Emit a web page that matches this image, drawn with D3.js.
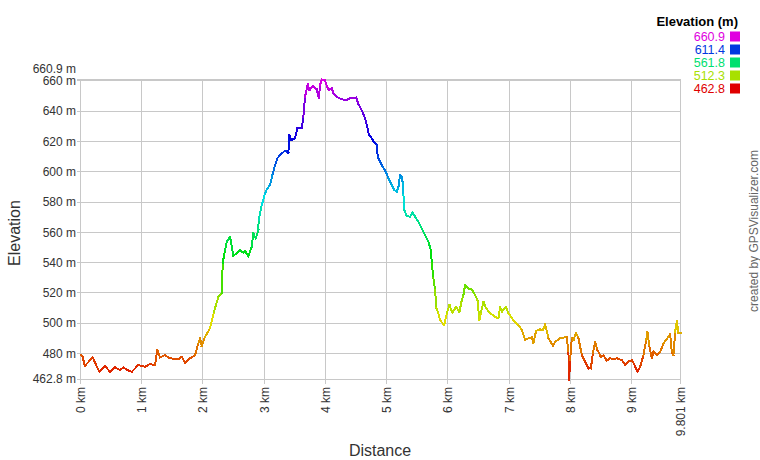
<!DOCTYPE html>
<html>
<head>
<meta charset="utf-8">
<script src="https://cdn.jsdelivr.net/npm/d3@7"></script>
<style>
  html, body { margin: 0; padding: 0; background: #fff; }
  svg { display: block; font-family: "Liberation Sans", Arial, sans-serif; }
</style>
</head>
<body>
<svg id="chart" width="760" height="460"></svg>
<script>
// ---- data ----
const distanceKm = [
  0.003, 0.036, 0.069, 0.199, 0.307, 0.400, 0.482, 0.564, 0.645, 0.699, 0.765, 0.837, 0.944,
  1.054, 1.136, 1.217, 1.255, 1.299, 1.381, 1.462, 1.598, 1.654, 1.708, 1.789, 1.871, 1.925,
  1.953, 1.980, 2.034, 2.116, 2.181, 2.252, 2.307, 2.324, 2.361, 2.389, 2.443, 2.497, 2.606,
  2.660, 2.688, 2.742, 2.797, 2.824, 2.863, 2.905, 2.910, 2.961, 3.015, 3.052, 3.096, 3.141,
  3.178, 3.216, 3.271, 3.342, 3.395, 3.412, 3.440, 3.505, 3.542, 3.614, 3.641, 3.668, 3.712,
  3.739, 3.766, 3.804, 3.859, 3.892, 3.913, 3.941, 3.995, 4.049, 4.105, 4.131, 4.186, 4.268,
  4.350, 4.404, 4.458, 4.502, 4.539, 4.595, 4.649, 4.676, 4.714, 4.752, 4.801, 4.840, 4.856,
  4.894, 4.938, 4.987, 5.029, 5.085, 5.127, 5.167, 5.193, 5.221, 5.248, 5.265, 5.275, 5.291,
  5.330, 5.384, 5.428, 5.466, 5.520, 5.575, 5.629, 5.683, 5.722, 5.739, 5.765, 5.792, 5.814,
  5.846, 5.874, 5.940, 5.984, 6.026, 6.075, 6.136, 6.190, 6.229, 6.255, 6.283, 6.337, 6.392,
  6.446, 6.484, 6.516, 6.544, 6.582, 6.626, 6.691, 6.773, 6.827, 6.855, 6.882, 6.908, 6.953,
  6.990, 7.072, 7.154, 7.209, 7.263, 7.317, 7.373, 7.399, 7.443, 7.508, 7.552, 7.590, 7.644,
  7.721, 7.753, 7.835, 7.944, 7.971, 7.982, 7.998, 8.026, 8.052, 8.092, 8.134, 8.190, 8.243,
  8.297, 8.337, 8.369, 8.407, 8.444, 8.500, 8.542, 8.598, 8.652, 8.706, 8.761, 8.843, 8.897,
  8.951, 9.007, 9.049, 9.098, 9.142, 9.196, 9.240, 9.261, 9.294, 9.333, 9.359, 9.415, 9.469,
  9.523, 9.605, 9.632, 9.660, 9.686, 9.714, 9.742, 9.768, 9.801
];
const elevationM = [
  478.9, 477.8, 471.7, 477.4, 467.9, 471.7, 467.9, 470.8, 469.0, 470.8, 469.0, 467.9, 472.3,
  471.2, 473.0, 472.3, 482.2, 477.4, 478.9, 476.8, 476.1, 477.8, 473.8, 476.8, 478.9, 486.7,
  490.0, 484.9, 491.0, 496.6, 507.5, 517.4, 519.7, 539.9, 548.3, 553.8, 557.1, 544.3, 548.3,
  546.5, 547.8, 543.9, 550.5, 559.3, 556.0, 561.5, 568.1, 578.0, 585.7, 589.0, 591.2, 598.9,
  604.4, 608.9, 611.5, 613.9, 612.6, 624.2, 620.9, 622.1, 628.7, 628.7, 636.3, 649.5, 657.9,
  654.0, 655.1, 656.6, 654.4, 648.5, 657.3, 660.9, 660.1, 654.0, 655.1, 651.8, 649.5, 647.8,
  647.4, 648.5, 648.5, 649.1, 644.7, 640.4, 635.3, 630.8, 624.2, 622.3, 619.2, 617.6, 609.9,
  606.6, 603.3, 600.0, 595.6, 591.2, 587.9, 586.8, 590.1, 597.8, 596.7, 592.3, 584.6, 574.7,
  570.7, 570.3, 572.9, 570.3, 567.0, 562.6, 558.2, 553.8, 548.3, 539.5, 529.8, 521.9, 510.0,
  506.5, 502.0, 498.7, 506.5, 512.0, 506.9, 510.8, 507.5, 515.3, 518.6, 525.2, 523.0, 522.3,
  518.6, 515.3, 502.0, 507.5, 514.1, 509.8, 506.5, 504.2, 503.2, 510.8, 507.5, 508.7, 510.8,
  506.5, 502.0, 498.7, 495.4, 488.8, 490.0, 490.6, 487.1, 495.0, 495.9, 495.4, 499.2, 490.0,
  484.9, 487.7, 490.0, 491.0, 480.1, 462.8, 475.6, 490.0, 488.8, 493.7, 490.0, 478.9, 474.5,
  470.1, 470.1, 480.1, 487.7, 482.2, 477.8, 478.9, 475.2, 476.8, 476.1, 476.8, 475.6, 472.3,
  474.5, 475.6, 472.3, 467.9, 471.2, 478.9, 488.8, 494.3, 484.4, 476.8, 481.1, 478.9, 481.1,
  486.7, 491.0, 492.8, 480.1, 478.9, 494.3, 501.6, 493.3, 493.3
];
const yTickValues = [480, 500, 520, 540, 560, 580, 600, 620, 640, 660];
const yExtremes = [462.8, 660.9];
const xTickValues = [0, 1, 2, 3, 4, 5, 6, 7, 8, 9, 9.801];
const legendValues = [660.9, 611.4, 561.8, 512.3, 462.8];
const legendTitle = "Elevation (m)";
const xTitle = "Distance";
const yTitle = "Elevation";
const creditText = "created by GPSVisualizer.com";

// ---- layout ----
const svg = d3.select("#chart");
const plot = { left: 80.5, right: 680.5, top: 79.5, bottom: 379.5 };
const x = d3.scaleLinear().domain([0, 9.801]).range([plot.left, plot.right]);
const y = d3.scaleLinear().domain(yExtremes).range([plot.bottom, plot.top]);
const hue = d3.scaleLinear().domain(yExtremes).range([0, 300]);
const colorOf = v => d3.hsl(hue(v), 1, 0.44).formatHex();

const gridColor = "#c8c8c8";
const textColor = "#333";

// gridlines
const grid = svg.append("g").attr("shape-rendering", "crispEdges");
grid.selectAll("line.hy").data(yTickValues.concat(yExtremes)).join("line")
  .attr("x1", plot.left).attr("x2", plot.right)
  .attr("y1", d => y(d)).attr("y2", d => y(d))
  .attr("stroke", gridColor).attr("stroke-width", 1);
grid.selectAll("line.vx").data(xTickValues).join("line")
  .attr("x1", d => x(d)).attr("x2", d => x(d))
  .attr("y1", plot.top).attr("y2", plot.bottom + 4)
  .attr("stroke", gridColor).attr("stroke-width", 1);
// y tick marks
grid.selectAll("line.ty").data(yTickValues.concat(yExtremes)).join("line")
  .attr("x1", plot.left - 4).attr("x2", plot.left)
  .attr("y1", d => y(d)).attr("y2", d => y(d))
  .attr("stroke", gridColor);

// y labels
const yLabels = svg.append("g").attr("font-size", 12).attr("fill", textColor).attr("text-anchor", "end");
yLabels.selectAll("text.t").data(yTickValues).join("text")
  .attr("x", 76).attr("y", d => y(d)).attr("dy", "0.35em")
  .text(d => d + " m");
yLabels.selectAll("text.e").data(yExtremes).join("text")
  .attr("x", 76).attr("y", (d, i) => i === 0 ? y(d) - 1 : y(d) - 11).attr("dy", "0.35em")
  .text(d => d + " m");

// x labels
svg.append("g").attr("font-size", 12).attr("fill", textColor).attr("text-anchor", "end")
  .selectAll("text").data(xTickValues).join("text")
  .attr("transform", d => `translate(${x(d) + 4.5},387) rotate(-90)`)
  .text(d => d + " km");

// axis titles
svg.append("text").attr("x", 380).attr("y", 456).attr("text-anchor", "middle")
  .attr("font-size", 16).attr("fill", textColor).text(xTitle);
svg.append("text").attr("transform", "translate(20,233) rotate(-90)").attr("text-anchor", "middle")
  .attr("font-size", 16).attr("fill", textColor).text(yTitle);

// credit
svg.append("text").attr("transform", "translate(758,231) rotate(-90)").attr("text-anchor", "middle")
  .attr("font-size", 12).attr("fill", "#666").text(creditText);

// profile line, segment colored by elevation
const pts = distanceKm.map((d, i) => ({ d, e: elevationM[i] }));
const segs = d3.pairs(pts);
svg.append("g").attr("stroke-width", 2).attr("stroke-linecap", "square").attr("fill", "none")
  .attr("shape-rendering", "crispEdges")
  .selectAll("line").data(segs).join("line")
  .attr("x1", s => x(s[0].d)).attr("y1", s => y(s[0].e))
  .attr("x2", s => x(s[1].d)).attr("y2", s => y(s[1].e))
  .attr("stroke", s => colorOf((s[0].e + s[1].e) / 2));

// legend
const lg = svg.append("g");
lg.append("text").attr("x", 738).attr("y", 21).attr("dy", "0.35em").attr("text-anchor", "end")
  .attr("font-size", 13).attr("font-weight", "bold").attr("fill", "#000").text(legendTitle);
const rows = lg.selectAll("g.row").data(legendValues).join("g")
  .attr("transform", (d, i) => `translate(0,${36.5 + i * 13})`);
rows.append("text").attr("x", 725).attr("dy", "0.35em").attr("text-anchor", "end")
  .attr("font-size", 12.5).attr("fill", d => colorOf(d)).text(d => d.toFixed(1));
rows.append("rect").attr("x", 730).attr("y", -5).attr("width", 10).attr("height", 10)
  .attr("fill", d => colorOf(d));
</script>
</body>
</html>
